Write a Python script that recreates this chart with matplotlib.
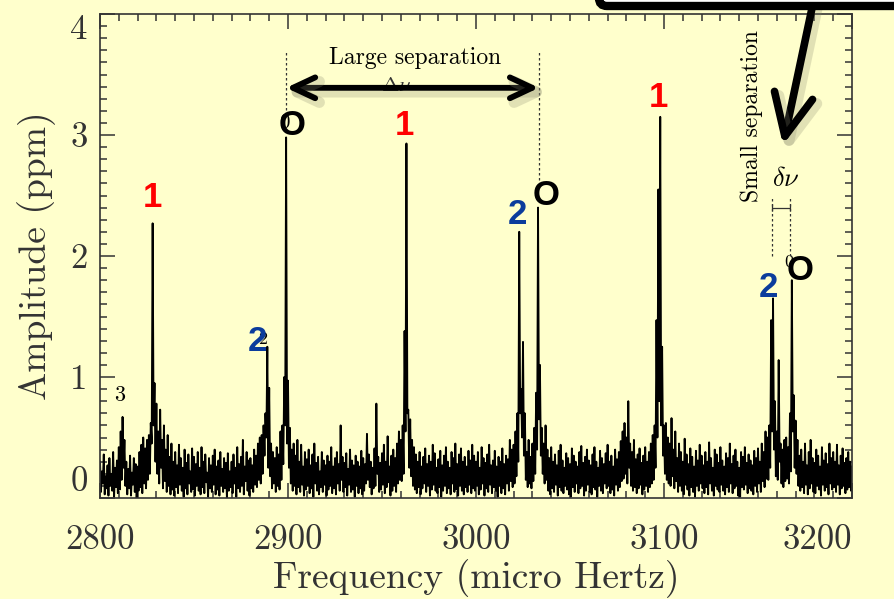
import numpy as np
import matplotlib
matplotlib.use('Agg')
import matplotlib.pyplot as plt
import matplotlib.patheffects as pe
from matplotlib.patches import FancyBboxPatch
from matplotlib.ticker import MultipleLocator
from matplotlib.transforms import IdentityTransform

plt.rcParams['mathtext.fontset'] = 'cm'

# ---------------- data ----------------
freq_start = 2800          # micro Hertz, 1 uHz grid
# local maxima of the spectrum per uHz bin (hundredths of ppm)
amp_hi_cent = [
    30, 22, 36, 18, 27, 33, 20, 38, 25, 31,
    42, 55, 67, 48, 30, 24, 35, 21, 33, 28,
    26, 38, 44, 50, 41, 48, 52, 62, 227, 95,
    78, 55, 73, 48, 60, 40, 52, 34, 45, 30,
    38, 27, 44, 33, 25, 40, 29, 36, 22, 41,
    34, 28, 38, 25, 42, 30, 36, 21, 33, 27,
    35, 40, 26, 31, 38, 24, 33, 29, 37, 22,
    30, 36, 25, 42, 28, 34, 48, 26, 38, 31,
    33, 27, 40, 35, 45, 50, 52, 60, 70, 125,
    91, 45, 38, 33, 42, 36, 55, 60, 100, 298,
    97, 58, 40, 45, 35, 48, 30, 44, 26, 38,
    32, 40, 27, 36, 45, 29, 34, 22, 38, 31,
    27, 35, 30, 42, 26, 33, 38, 28, 60, 34,
    29, 37, 24, 40, 31, 27, 35, 30, 26, 39,
    33, 28, 53, 36, 30, 25, 41, 78, 34, 29,
    37, 44, 30, 51, 26, 35, 40, 33, 45, 55,
    48, 60, 138, 293, 73, 65, 48, 42, 36, 30,
    38, 26, 34, 41, 28, 35, 30, 44, 37, 25,
    32, 39, 27, 35, 42, 30, 25, 38, 33, 45,
    28, 36, 41, 30, 34, 26, 39, 31, 44, 35,
    30, 38, 25, 42, 33, 29, 36, 44, 27, 31,
    39, 26, 34, 30, 41, 28, 35, 32, 48, 40,
    44, 55, 70, 220, 90, 129, 70, 38, 48, 34,
    45, 58, 87, 240, 110, 58, 45, 60, 40, 33,
    42, 30, 36, 27, 39, 44, 31, 25, 37, 33,
    28, 41, 35, 30, 26, 38, 43, 29, 34, 40,
    31, 27, 36, 42, 30, 25, 39, 33, 28, 37,
    44, 30, 35, 26, 40, 32, 38, 47, 55, 62,
    50, 80, 45, 38, 48, 32, 36, 41, 29, 35,
    42, 30, 38, 45, 52, 60, 147, 255, 315, 125,
    60, 62, 50, 45, 66, 40, 55, 33, 45, 38,
    30, 49, 36, 28, 41, 34, 26, 39, 31, 44,
    35, 27, 38, 30, 46, 33, 25, 40, 36, 29,
    42, 31, 26, 37, 33, 45, 28, 35, 40, 30,
    25, 38, 34, 42, 29, 36, 31, 27, 39, 33,
    41, 30, 45, 38, 55, 50, 60, 147, 165, 80,
    55, 114, 45, 40, 48, 50, 42, 70, 180, 85,
    64, 48, 35, 40, 30, 45, 27, 38, 48, 33,
    29, 40, 35, 26, 42, 31, 37, 28, 45, 33,
    38, 30, 44, 27, 35, 41, 29, 33, 38, 30,
    26,
]
# local minima between bins (hundredths of ppm), at bin + 0.5 uHz
amp_lo_cent = [
    5, 12, 3, 8, 2, 10, 6, 1, 9, 4,
    7, 15, 25, 10, 3, 8, 2, 11, 5, 0,
    6, 9, 4, 12, 8, 15, 20, 45, 60, 30,
    20, 12, 25, 8, 14, 5, 10, 3, 7, 2,
    9, 4, 11, 6, 1, 8, 3, 12, 5, 7,
    2, 10, 6, 3, 9, 4, 13, 1, 8, 5,
    11, 3, 7, 2, 10, 5, 8, 0, 6, 9,
    4, 12, 1, 8, 5, 10, 3, 14, 6, 2,
    8, 5, 11, 9, 15, 12, 20, 35, 50, 25,
    18, 8, 12, 5, 10, 7, 15, 28, 60, 45,
    25, 12, 6, 10, 3, 9, 5, 11, 2, 7,
    10, 4, 8, 1, 12, 6, 3, 9, 5, 11,
    2, 7, 10, 4, 8, 3, 12, 6, 15, 5,
    9, 2, 11, 5, 7, 1, 10, 4, 8, 3,
    6, 12, 15, 9, 3, 8, 10, 20, 5, 7,
    11, 4, 9, 13, 2, 6, 10, 5, 12, 15,
    14, 20, 55, 70, 25, 18, 10, 7, 4, 9,
    3, 8, 12, 5, 10, 2, 7, 11, 6, 4,
    9, 1, 6, 10, 4, 8, 3, 12, 5, 7,
    2, 10, 6, 3, 9, 5, 11, 4, 8, 6,
    10, 3, 7, 12, 2, 8, 5, 11, 4, 9,
    6, 1, 10, 4, 8, 3, 12, 6, 14, 9,
    12, 18, 30, 70, 50, 35, 15, 9, 12, 8,
    14, 20, 40, 65, 35, 20, 12, 15, 6, 3,
    8, 5, 11, 2, 9, 6, 4, 10, 7, 3,
    1, 9, 5, 12, 4, 8, 10, 2, 6, 11,
    5, 3, 9, 7, 1, 10, 6, 4, 12, 8,
    10, 4, 7, 2, 11, 6, 9, 14, 16, 20,
    12, 25, 10, 6, 9, 4, 8, 11, 3, 7,
    10, 5, 9, 12, 15, 25, 50, 80, 60, 35,
    20, 15, 12, 10, 18, 8, 14, 5, 10, 6,
    3, 11, 7, 2, 9, 5, 1, 10, 6, 12,
    8, 4, 9, 3, 12, 6, 2, 10, 7, 5,
    11, 6, 3, 9, 5, 12, 4, 8, 10, 2,
    1, 9, 7, 11, 4, 8, 6, 3, 10, 5,
    12, 5, 14, 9, 16, 15, 25, 55, 40, 18,
    15, 30, 12, 9, 14, 16, 12, 22, 55, 25,
    20, 10, 6, 9, 4, 11, 3, 8, 12, 5,
    4, 10, 7, 2, 11, 6, 9, 3, 12, 7,
    9, 5, 11, 3, 8, 10, 4, 7, 9, 6,
]

# mode identification labels (degree l) and their positions
l1_freq = [2827.7, 2962.2, 3096.8]
l1_amp = [2.48, 3.08, 3.31]
l2_freq = [2883.5, 3021.8, 3155.3]
l2_amp = [1.29, 2.34, 1.74]
l0_freq = [2902.1, 3037.2, 3172.3]
l0_amp = [3.08, 2.50, 1.88]

x_ticks = [2800, 2900, 3000, 3100, 3200]
y_ticks = [0, 1, 2, 3, 4]

large_sep = [2899.0, 3033.5]   # l=0 modes spanning the large separation
small_sep = [3157.2, 3167.0]   # l=2 / l=0 pair for the small separation

# ---------------- figure ----------------
bg = '#FFFFCC'
fig = plt.figure(figsize=(8.94, 5.99), dpi=100, facecolor=bg)
ax = fig.add_axes([100 / 894, 1 - 498 / 599, 752 / 894, 484 / 599])
ax.set_facecolor(bg)

hi = np.array(amp_hi_cent) / 100.0
lo = np.array(amp_lo_cent) / 100.0
f_hi = freq_start + np.arange(len(hi), dtype=float)
xs = np.empty(len(hi) + len(lo))
ys = np.empty_like(xs)
xs[0::2] = f_hi
ys[0::2] = hi
xs[1::2] = f_hi[:-1] + 0.5
ys[1::2] = lo
ax.plot(xs, ys, color='black', lw=1.35, zorder=2)

ax.set_xlim(2800, 3200)
ax.set_ylim(0, 4)

tcol = '#333333'
ax.set_xticks(x_ticks)
ax.set_yticks(y_ticks)
ax.xaxis.set_minor_locator(MultipleLocator(10))
ax.yaxis.set_minor_locator(MultipleLocator(0.1))
ax.tick_params(which='both', direction='in', top=True, right=True, color=tcol, width=1.1)
ax.tick_params(which='major', length=11)
ax.tick_params(which='minor', length=5)
ax.tick_params(axis='x', which='major', pad=19, labelsize=25, labelcolor=tcol)
ax.tick_params(axis='y', which='major', pad=9, labelsize=25, labelcolor=tcol)
for lab in ax.get_xticklabels() + ax.get_yticklabels():
    lab.set_fontfamily('cmr10')
ylabs = ax.get_yticklabels()
ylabs[0].set_va('bottom')
ylabs[-1].set_va('top')
ax.get_xticklabels()[-1].set_ha('right')
for s in ax.spines.values():
    s.set_color(tcol)
    s.set_linewidth(1.2)

ax.set_xlabel('Frequency (micro Hertz)', fontfamily='cmr10', fontsize=27, color=tcol, labelpad=2)
ax.set_ylabel('Amplitude (ppm)', fontfamily='cmr10', fontsize=27, color=tcol, labelpad=10)

# small original labels partly hidden behind the big ones
ax.text(2810.6, 0.85, '3', fontfamily='cmr10', fontsize=16, color='black', ha='center', va='center', zorder=3)
ax.text(2886.7, 1.31, '2', fontfamily='cmr10', fontsize=13, color='black', ha='center', va='center', zorder=3)
ax.text(3166.6, 1.95, '0', fontfamily='cmr10', fontsize=13, color='black', ha='center', va='center', zorder=3)
ax.text(2898.0, 3.10, '0', fontfamily='cmr10', fontsize=15, color='black', ha='center', va='center', zorder=3)

lab_kw = dict(fontfamily='Liberation Sans', fontweight='bold', fontsize=25, ha='center', va='center', zorder=5)
for f, a in zip(l1_freq, l1_amp):
    ax.text(f, a, '1', color='#FF0000', **lab_kw)
for f, a in zip(l2_freq, l2_amp):
    ax.text(f, a, '2', color='#0B3C9C', **lab_kw)
for f, a in zip(l0_freq, l0_amp):
    ax.text(f, a, 'O', color='black', **lab_kw)

shadow = [pe.Stroke(offset=(3, -3), linewidth=8, foreground='#8a8a70', alpha=0.25), pe.Normal()]

# large separation
ax.vlines(large_sep[0], 3.21, 3.69, colors='#333333', linestyles=(0, (2, 2)), lw=0.9, zorder=3)
ax.vlines(large_sep[1], 2.63, 3.69, colors='#333333', linestyles=(0, (2, 2)), lw=0.9, zorder=3)
ax.text(2957.5, 3.41, r'$\Delta\nu$', fontsize=15, color='#333333', ha='center', va='center', zorder=3)
ax.annotate('', xy=(large_sep[1], 3.39), xytext=(large_sep[0], 3.39),
            arrowprops=dict(arrowstyle='<->,head_length=1.6,head_width=0.75', lw=4.2, color='black',
                            shrinkA=0, shrinkB=0, capstyle='round', joinstyle='round',
                            path_effects=shadow), zorder=4)
ax.text(2967.6, 3.64, 'Large separation', fontfamily='cmr10', fontsize=17, color='black',
        ha='center', va='center', zorder=4)

# small separation
ax.vlines(small_sep, 2.0, 2.49, colors='#333333', linestyles=(0, (2, 2)), lw=0.9, zorder=3)
ax.hlines(2.40, small_sep[0], small_sep[1], colors='#333333', lw=0.9, zorder=3)
ax.vlines(small_sep, 2.37, 2.43, colors='#333333', lw=0.9, zorder=3)
ax.text(3164.7, 2.64, r'$\delta\nu$', fontsize=19, color='black', ha='center', va='center', zorder=4)
ax.text(3146.8, 3.16, 'Small separation', fontfamily='cmr10', fontsize=17, color='black',
        rotation=90, ha='center', va='center', zorder=4)

# box at top right and pointing arrow
box = FancyBboxPatch((599, 593), 400, 60, boxstyle='round,pad=0,rounding_size=8',
                     transform=IdentityTransform(), facecolor='white', edgecolor='black',
                     lw=6, clip_on=False, zorder=10)
fig.patches.append(box)
ax.annotate('', xy=(783, 599 - 145), xycoords='figure pixels', xytext=(815, 605), textcoords='figure pixels',
            arrowprops=dict(arrowstyle='->,head_length=3.0,head_width=1.4', lw=5.5, color='black',
                            shrinkA=0, shrinkB=0, capstyle='round', joinstyle='round',
                            path_effects=shadow),
            annotation_clip=False, zorder=11)

fig.savefig('out.png', dpi=100, facecolor=bg)
